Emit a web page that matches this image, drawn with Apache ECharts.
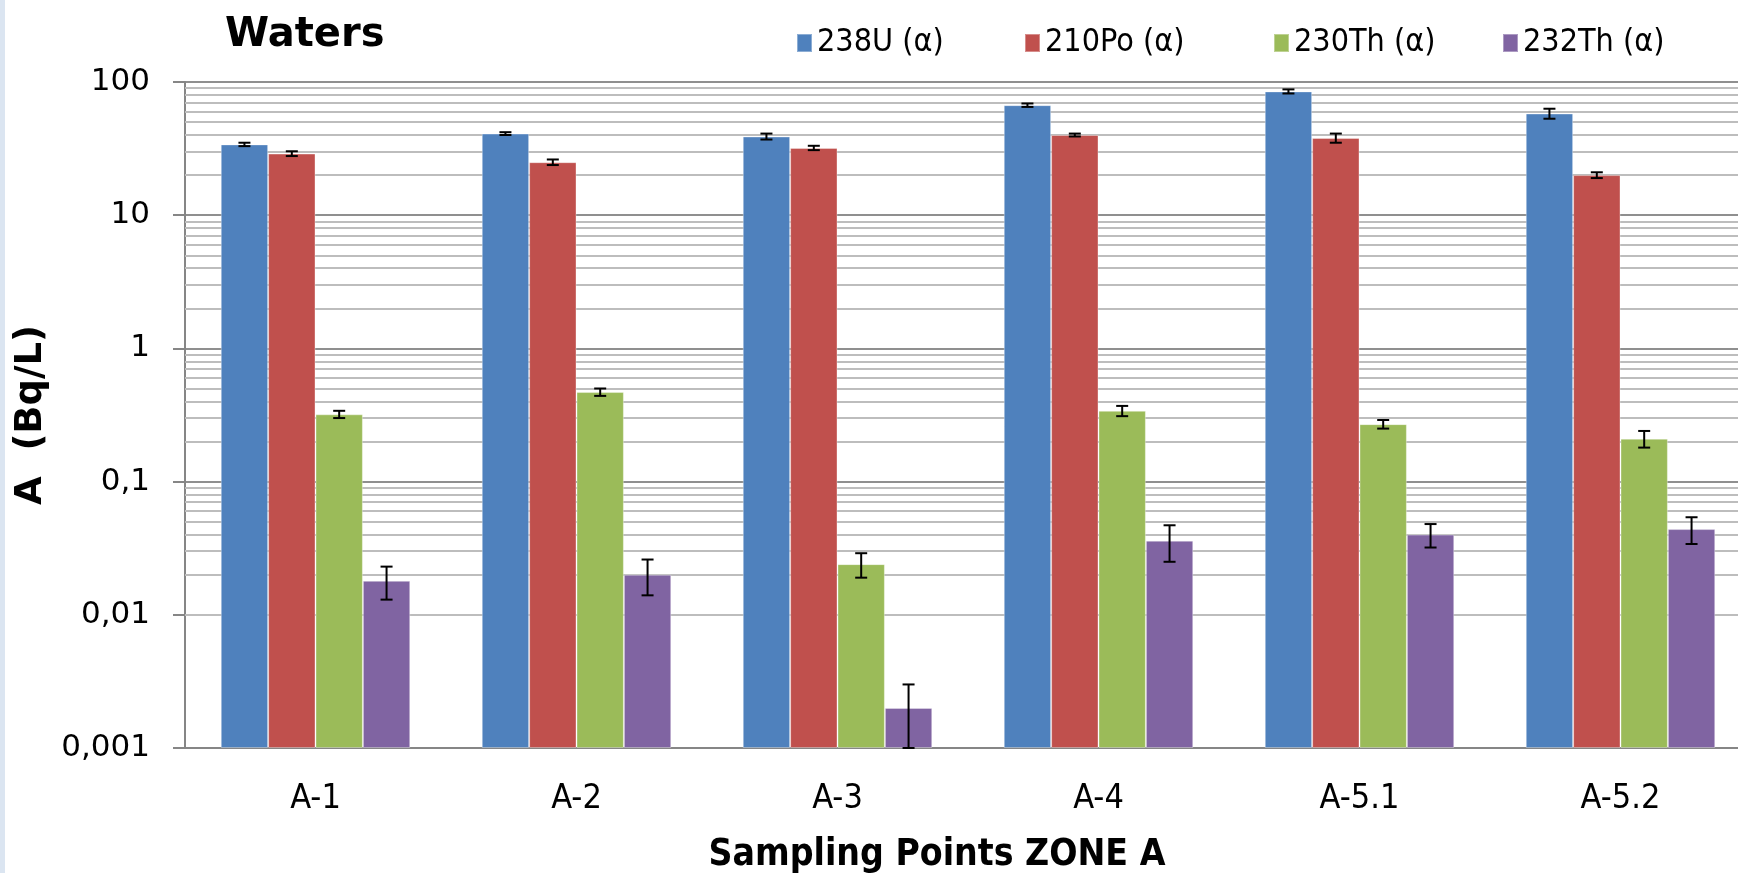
<!DOCTYPE html>
<html>
<head>
<meta charset="utf-8">
<title>Waters</title>
<script src="https://cdn.jsdelivr.net/npm/echarts@6/dist/echarts.min.js"></script>
<style>
  html, body { margin: 0; padding: 0; background: #fff; }
  #chart { width: 1738px; height: 873px; }
</style>
</head>
<body>
<div id="chart"></div>
<script>
// Sampling points and measured activities (Bq/L) with their uncertainties
const categories = ['A-1', 'A-2', 'A-3', 'A-4', 'A-5.1', 'A-5.2'];
const seriesNames = ['238U (α)', '210Po (α)', '230Th (α)', '232Th (α)'];

const u238     = [34, 41, 39, 67, 85, 58];
const u238Err  = [1, 1, 2, 2, 3, 5];
const po210    = [29, 25, 32, 40, 38, 20];
const po210Err = [1.2, 1.2, 1.2, 1, 3, 1];
const th230    = [0.32, 0.47, 0.024, 0.34, 0.27, 0.21];
const th230Err = [0.02, 0.03, 0.005, 0.03, 0.02, 0.03];
const th232    = [0.018, 0.020, 0.002, 0.036, 0.040, 0.044];
const th232Err = [0.005, 0.006, 0.001, 0.011, 0.008, 0.010];

// Log axis range and its tick labels (decimal comma)
const yMin = 0.001;
const yMax = 100;
const yTickLabels = ['0,001', '0,01', '0,1', '1', '10', '100'];

const values = [u238, po210, th230, th232];
const errors = [u238Err, po210Err, th230Err, th232Err];
const colors = ['#4F81BD', '#C0504D', '#9BBB59', '#8064A2'];

const CATEGORY_GAP = 0.274;
const nSeries = values.length;

// Minor grid lines at 2..9 of every decade
const minorGrid = [];
for (let d = yMin; d < yMax; d *= 10) {
  for (let m = 2; m <= 9; m++) minorGrid.push(+(m * d).toPrecision(3));
}

const barSeries = values.map((vals, k) => ({
  name: seriesNames[k],
  type: 'bar',
  data: vals,
  barGap: '0%',
  barCategoryGap: (CATEGORY_GAP * 100) + '%',
  itemStyle: { color: colors[k], borderColor: 'rgba(255,255,255,0.35)', borderWidth: 1 },
  z: 2
}));

const errorSeries = values.map((vals, k) => ({
  name: seriesNames[k] + ' err',
  type: 'custom',
  z: 3,
  silent: true,
  data: vals.map((v, i) => [i, v, errors[k][i]]),
  renderItem(params, api) {
    const ci = api.value(0), v = api.value(1), e = api.value(2);
    const band = api.coord([1, v])[0] - api.coord([0, v])[0];
    const barW = band * (1 - CATEGORY_GAP) / nSeries;
    const x = api.coord([ci, v])[0] + (k - (nSeries - 1) / 2) * barW;
    const yHi = api.coord([ci, v + e])[1];
    const yLo = api.coord([ci, Math.max(v - e, yMin)])[1];
    const cap = 6;
    const style = { stroke: '#000', lineWidth: 2 };
    return {
      type: 'group',
      children: [
        { type: 'line', shape: { x1: x, y1: yHi, x2: x, y2: yLo }, style },
        { type: 'line', shape: { x1: x - cap, y1: yHi, x2: x + cap, y2: yHi }, style },
        { type: 'line', shape: { x1: x - cap, y1: yLo, x2: x + cap, y2: yLo }, style }
      ]
    };
  }
}));

// Grid lines for the minor decade steps, drawn behind the bars
const minorGridSeries = {
  name: 'minor-grid',
  type: 'line',
  data: [],
  silent: true,
  markLine: {
    silent: true,
    symbol: 'none',
    z: 1,
    label: { show: false },
    lineStyle: { color: '#bdbdbd', width: 2, type: 'solid' },
    emphasis: { disabled: true },
    data: minorGrid.map(v => ({ yAxis: v }))
  }
};

const legendX = [791, 1019, 1268, 1497];
const legends = seriesNames.map((n, k) => ({
  data: [n],
  left: legendX[k],
  top: 22,
  itemWidth: 15,
  itemHeight: 18,
  itemGap: 0,
  selectedMode: false,
  icon: 'rect',
  textStyle: { fontFamily: 'DejaVu Sans Condensed', fontSize: 32, color: '#000', padding: [0, 0, 0, 0] }
}));

const chart = echarts.init(document.getElementById('chart'), null, { renderer: 'canvas' });
chart.setOption({
  animation: false,
  backgroundColor: '#fff',
  graphic: [{
    type: 'rect', left: 0, top: 0,
    shape: { width: 5, height: 873 },
    style: { fill: '#dbe5f1' }
  }],
  title: [
    {
      text: 'Waters', left: 220, top: 11,
      textStyle: { fontFamily: 'DejaVu Sans', fontWeight: 'bold', fontSize: 40, color: '#000' }
    },
    {
      text: 'Sampling Points ZONE A', left: 932, top: 832, textAlign: 'center',
      textStyle: { fontFamily: 'DejaVu Sans Condensed', fontWeight: 'bold', fontSize: 37, color: '#000' }
    }
  ],
  legend: legends,
  grid: { left: 185, top: 82, width: 1566, height: 666, containLabel: false, outerBoundsMode: 'none' },
  xAxis: {
    type: 'category',
    data: categories,
    axisLine: { show: true, lineStyle: { color: '#868686', width: 2 } },
    axisTick: { show: false },
    axisLabel: { fontFamily: 'DejaVu Sans Condensed', fontSize: 34, color: '#000', margin: 34 },
    splitLine: { show: false }
  },
  yAxis: {
    type: 'log',
    logBase: 10,
    min: yMin,
    max: yMax,
    startValue: yMin,
    splitNumber: 5,
    name: 'A  (Bq/L)',
    nameLocation: 'middle',
    nameGap: 132,
    nameTextStyle: { fontFamily: 'DejaVu Sans', fontWeight: 'bold', fontSize: 37, color: '#000' },
    axisLine: { show: true, lineStyle: { color: '#868686', width: 2 } },
    axisTick: { show: true, length: 12, inside: false, lineStyle: { color: '#868686', width: 2 } },
    axisLabel: {
      fontFamily: 'DejaVu Sans', fontSize: 31, color: '#000', margin: 35,
      formatter: v => yTickLabels[Math.round(Math.log10(v) - Math.log10(yMin))]
    },
    splitLine: { show: true, lineStyle: { color: '#8f8f8f', width: 2 } },
    minorTick: { show: false },
    minorSplitLine: { show: false }
  },
  series: [minorGridSeries, ...barSeries, ...errorSeries]
});
</script>
</body>
</html>
